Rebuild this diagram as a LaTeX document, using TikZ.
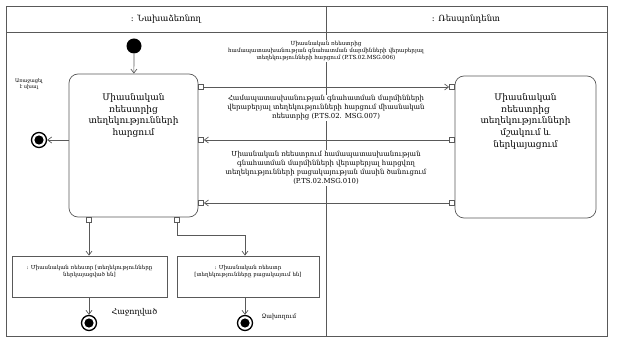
\documentclass[tikz,border=0pt]{standalone}
\usepackage{fontspec}
\setmainfont{DejaVu Serif}
\usetikzlibrary{arrows.meta}

\newcommand{\fsz}[1]{\fontsize{#1}{1.3\dimexpr#1pt\relax}\selectfont}

\begin{document}
\begin{tikzpicture}[x=1pt, y=-1pt,
  line/.style={draw=black!65, line width=0.7pt},
  action/.style={line, rounded corners=9pt, inner sep=0pt},
  actiontext/.style={anchor=north, align=center, font=\fsz{9}},
  objbox/.style={line, inner sep=0pt},
  objtext/.style={anchor=north, align=center, font=\fsz{5.5}},
  pinbox/.style={line, fill=white, minimum size=5pt, inner sep=0pt},
  msg/.style={fill=white, align=center, inner sep=1pt},
  arr/.style={line, -{Straight Barb[length=4pt, width=6pt]}},
  startnode/.style={circle, fill=black, minimum size=15pt, inner sep=0pt},
  endnode/.style={circle, draw=black, line width=1.3pt, minimum size=15pt, inner sep=0pt,
    path picture={\fill (path picture bounding box.center) circle (4.6pt);}},
]
  \useasboundingbox (0,0) rectangle (620,344);

  % swimlanes
  \draw[line] (6,6) rectangle (607,336);
  \draw[line] (6,32) -- (607,32);
  \draw[line] (326,6) -- (326,336);
  \node[font=\fsz{8.5}] (laneinit) at (166,19) {: Նախաձեռնող};
  \node[font=\fsz{8.5}] (laneresp) at (466,19) {: Ռեսպոնդենտ};

  % actions
  \node[action, minimum width=129pt, minimum height=143pt] (request) at (133.5,145.5) {};
  \node[actiontext] (requesttxt) at (133.5,90) {Միասնական\\ռեեստրից\\տեղեկությունների\\հարցում};
  \node[action, minimum width=141pt, minimum height=142pt] (process) at (525.5,147) {};
  \node[actiontext] (processtxt) at (525.5,90) {Միասնական\\ռեեստրից\\տեղեկությունների\\մշակում և\\ներկայացում};

  % pins
  \node[pinbox] (pinA) at (201,87) {};
  \node[pinbox] (pinB) at (201,140) {};
  \node[pinbox] (pinC) at (201,203) {};
  \node[pinbox] (pinD) at (452,87) {};
  \node[pinbox] (pinE) at (452,140) {};
  \node[pinbox] (pinF) at (452,203) {};
  \node[pinbox] (pinG) at (89,220) {};
  \node[pinbox] (pinH) at (177,220) {};

  % start / end
  \node[startnode] (start) at (134,46) {};
  \node[endnode] (enderr) at (39,140) {};
  \node[font=\fsz{5}, align=center] (enderrtxt) at (29,84) {Առաջացել\\է սխալ};

  % messages
  \draw[arr] (pinA) -- (pinD);
  \draw[arr] (pinE) -- (pinB);
  \draw[arr] (pinF) -- (pinC);
  \node[msg, font=\fsz{5.6}] (msg006) at (326,51) {Միասնական ռեեստրից\\համապատասխանության գնահատման մարմինների վերաբերյալ\\տեղեկությունների հարցում (P.TS.02.MSG.006)};
  \node[msg, font=\fsz{6.9}] (msg007) at (326,108) {Համապատասխանության գնահատման մարմինների\\վերաբերյալ տեղեկությունների հարցում միասնական\\ռեեստրից (P.TS.02. MSG.007)};
  \node[msg, font=\fsz{6.9}] (msg010) at (326,168) {Միասնական ռեեստրում համապատասխանության\\գնահատման մարմինների վերաբերյալ հարցվող\\տեղեկությունների բացակայության մասին ծանուցում\\(P.TS.02.MSG.010)};

  \draw[arr] (start) -- (request);
  \draw[arr] (request.west |- enderr) -- (enderr);

  % result objects
  \node[objbox, minimum width=155pt, minimum height=41pt] (found) at (89.5,276.5) {};
  \node[objtext] (foundtxt) at (89.5,262) {: Միասնական ռեեստր [տեղեկությունները\\ներկայացված են]};
  \node[objbox, minimum width=142pt, minimum height=41pt] (absent) at (248,276.5) {};
  \node[objtext] (absenttxt) at (248,262) {: Միասնական ռեեստր\\{}[տեղեկությունները բացակայում են]};

  \coordinate (bend) at (245,235);
  \draw[arr] (pinG) -- (found.north -| pinG);
  \draw[arr] (pinH) |- (bend) -- (absent.north -| bend);

  \node[endnode] (endok) at (89,323) {};
  \node[endnode] (endfail) at (245,323) {};
  \draw[arr] (found.south -| endok) -- (endok);
  \draw[arr] (absent.south -| endfail) -- (endfail);
  \node[anchor=west, font=\fsz{8}] (endoktxt) at (108,312) {Հաջողված};
  \node[anchor=west, font=\fsz{6}] (endfailtxt) at (258,317) {Ձախողում};
\end{tikzpicture}
\end{document}
